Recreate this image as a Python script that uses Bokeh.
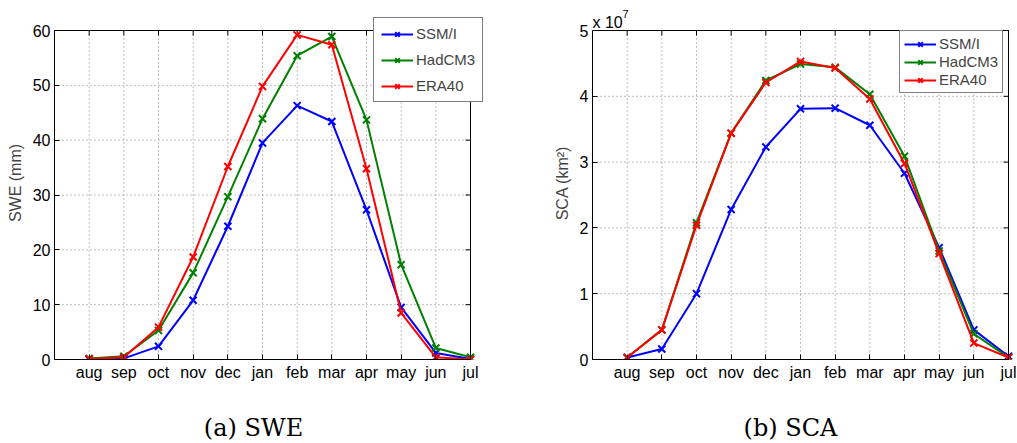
from bokeh.plotting import figure
from bokeh.layouts import row, column
from bokeh.models import (FixedTicker, Legend, LegendItem, Range1d, Label, BoxAnnotation)
from bokeh.embed import file_html
from bokeh.resources import INLINE

months = ["aug", "sep", "oct", "nov", "dec", "jan", "feb", "mar", "apr", "may", "jun", "jul"]
month_pos = list(range(1, 13))

# SWE (mm)
swe_ssmi = [0.0, 0.2, 2.4, 10.8, 24.3, 39.5, 46.3, 43.4, 27.3, 9.5, 1.2, 0.1]
swe_hadcm3 = [0.2, 0.6, 5.3, 15.8, 29.7, 43.9, 55.4, 58.9, 43.7, 17.3, 2.1, 0.4]
swe_era40 = [0.1, 0.4, 5.9, 18.7, 35.2, 49.8, 59.2, 57.4, 34.8, 8.5, 0.4, 0.0]
swe_ticks = [0, 10, 20, 30, 40, 50, 60]

# SCA (units of 1e7 km^2)
sca_ssmi = [0.03, 0.16, 1.00, 2.28, 3.23, 3.81, 3.82, 3.56, 2.83, 1.70, 0.45, 0.05]
sca_hadcm3 = [0.03, 0.45, 2.08, 3.44, 4.24, 4.49, 4.44, 4.03, 3.09, 1.65, 0.39, 0.03]
sca_era40 = [0.03, 0.45, 2.04, 3.44, 4.21, 4.53, 4.43, 3.96, 2.98, 1.61, 0.25, 0.03]
sca_ticks = [0, 1, 2, 3, 4, 5]

series_names = ["SSM/I", "HadCM3", "ERA40"]
colors = ["#0000ff", "#008000", "#ff0000"]

SANS = "Liberation Sans"
SERIF = "DejaVu Serif"
GRID_COLOR = "#808080"

FIG_H = 395
BORDER_TOP = 6
BORDER_BOTTOM = 36
BOX_TOP_PX = 30          # page y of the axes box top
BOX_H = FIG_H - BORDER_BOTTOM - BOX_TOP_PX   # 329
FRAME_H = FIG_H - BORDER_BOTTOM - BORDER_TOP  # 353
BOX_W = 416
TICK_PX = 5


def style_axis(ax):
    ax.major_tick_in = TICK_PX
    ax.major_tick_out = 0
    ax.minor_tick_in = 0
    ax.minor_tick_out = 0
    ax.axis_line_color = "black"
    ax.axis_line_width = 1
    ax.major_tick_line_color = "black"
    ax.major_label_text_font = SANS
    ax.major_label_text_font_size = "16px"
    ax.major_label_text_color = "black"
    ax.axis_label_text_font = SANS
    ax.axis_label_text_font_size = "16px"
    ax.axis_label_text_font_style = "normal"
    ax.axis_label_standoff = 6


def make_fig(width, extra_right_px, ymax, yticks, data, ylabel, mb_left, mb_right,
             legend_loc, legend_spacing, legend_pad):
    # the plot area is a little larger than the axes box, so that the legend and
    # the exponent text may stick out of the box as in the reference
    x_end = 12 + extra_right_px * 12 / BOX_W
    y_end = ymax * FRAME_H / BOX_H
    p = figure(width=width, height=FIG_H, x_range=Range1d(0, x_end), y_range=Range1d(0, y_end),
               output_backend="svg", toolbar_location=None,
               min_border_left=mb_left, min_border_right=mb_right,
               min_border_top=BORDER_TOP, min_border_bottom=BORDER_BOTTOM)
    p.background_fill_color = "white"
    p.border_fill_color = "white"
    p.outline_line_color = None

    p.xaxis.ticker = FixedTicker(ticks=month_pos)
    p.xaxis.major_label_overrides = {i: m for i, m in zip(month_pos, months)}
    p.yaxis.ticker = FixedTicker(ticks=yticks)
    p.yaxis.axis_label = ylabel
    style_axis(p.xaxis[0])
    style_axis(p.yaxis[0])
    p.xaxis.major_label_standoff = 4
    p.yaxis.major_label_standoff = 4
    p.xaxis.bounds = (0, 12)
    p.yaxis.bounds = (0, ymax)
    p.grid.visible = False

    # dotted grid inside the box
    p.segment(x0=month_pos, y0=[0] * 12, x1=month_pos, y1=[ymax] * 12,
              line_color=GRID_COLOR, line_dash="1 3", line_width=1)
    p.segment(x0=[0] * len(yticks), y0=yticks, x1=[12] * len(yticks), y1=yticks,
              line_color=GRID_COLOR, line_dash="1 3", line_width=1)
    # inward ticks on the top and right sides of the box
    dx = TICK_PX * 12 / BOX_W
    dy = TICK_PX * ymax / BOX_H
    p.segment(x0=month_pos, y0=[ymax] * 12, x1=month_pos, y1=[ymax - dy] * 12,
              line_color="black", line_width=1)
    p.segment(x0=[12] * len(yticks), y0=yticks, x1=[12 - dx] * len(yticks), y1=yticks,
              line_color="black", line_width=1)
    p.add_layout(BoxAnnotation(left=0, right=12, bottom=0, top=ymax, fill_alpha=0,
                               line_color="black", line_width=1, line_alpha=1))

    items = []
    for name, col, vals in zip(series_names, colors, data):
        ln = p.line(month_pos, vals, line_color=col, line_width=2)
        sc = p.scatter(month_pos, vals, marker="x", size=10, line_color=col, line_width=2)
        items.append(LegendItem(label=name, renderers=[ln, sc]))

    leg = Legend(items=items, location=legend_loc)
    leg.border_line_color = "black"
    leg.border_line_width = 1.5
    leg.background_fill_color = "white"
    leg.background_fill_alpha = 1
    leg.label_text_font = SANS
    leg.label_text_font_size = "15px"
    leg.glyph_width = 32
    leg.glyph_height = 16
    leg.label_height = 16
    leg.spacing = legend_spacing
    leg.padding = legend_pad
    leg.margin = 0
    leg.label_standoff = 3
    p.add_layout(leg, "center")
    return p


def caption_fig(width, text, cx):
    c = figure(width=width, height=48, x_range=Range1d(0, 1), y_range=Range1d(0, 1),
               output_backend="svg", toolbar_location=None,
               x_axis_location=None, y_axis_location=None, min_border=0)
    c.outline_line_color = None
    c.grid.visible = False
    c.add_layout(Label(x=cx, y=16, x_units="screen", y_units="screen", text=text,
                       text_align="center", text_baseline="middle", text_font=SERIF,
                       text_font_size="24px", text_color="black"))
    return c


# left panel: box at pixels x 54..470, y 30..359
p1 = make_fig(508, 13, 60, swe_ticks,
              [swe_ssmi, swe_hadcm3, swe_era40], "SWE (mm)",
              54, 25, (319, 257), 9, 7)

# right panel: box at pixels x 592..1008, y 30..359
p2 = make_fig(509, 5, 5, sca_ticks,
              [sca_ssmi, sca_hadcm3, sca_era40], "SCA (km\u00b2)",
              84, 4, (307, 266), 1, 4)

# exponent "x 10^7" above the right box
p2.add_layout(Label(x=0, y=BOX_H + 8, x_units="screen", y_units="screen", text="x 10",
                    text_align="left", text_baseline="middle", text_font=SANS,
                    text_font_size="16px", text_color="black"))
p2.add_layout(Label(x=30, y=BOX_H + 17, x_units="screen", y_units="screen", text="7",
                    text_align="left", text_baseline="middle", text_font=SANS,
                    text_font_size="11px", text_color="black"))

c1 = caption_fig(508, "(a) SWE", 253)
c2 = caption_fig(509, "(b) SCA", 282)

layout = column(row(p1, p2), row(c1, c2))
open("out.html", "w").write(file_html(layout, INLINE))
